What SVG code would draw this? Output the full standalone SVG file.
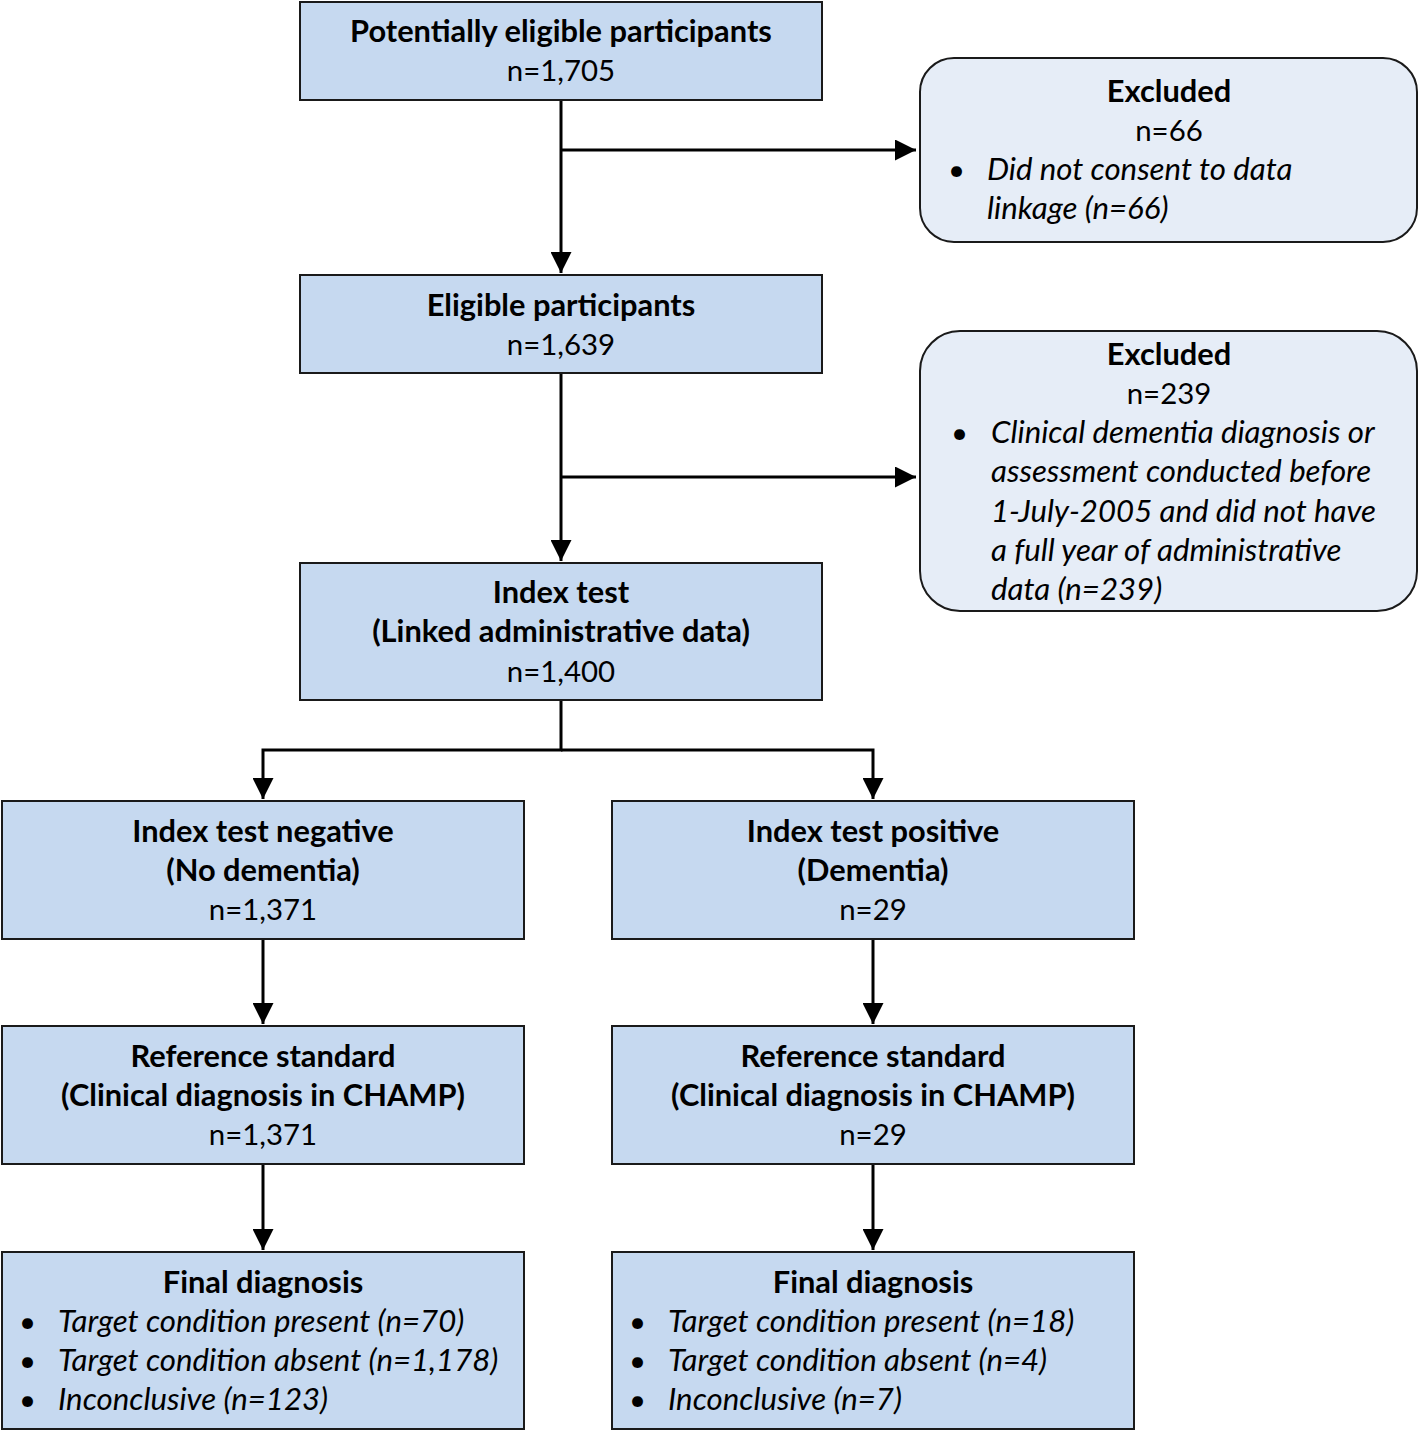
<svg xmlns="http://www.w3.org/2000/svg" width="1419" height="1431" viewBox="0 0 1419 1431">
<defs>
<marker id="ah" viewBox="0 0 10 10" refX="10" refY="5" markerWidth="7" markerHeight="7" markerUnits="strokeWidth" orient="auto">
<path d="M0,0 L10,5 L0,10 z" fill="#000"/>
</marker>
<style>
.box{fill:#c6d9f0;stroke:#1a1a1a;stroke-width:2}
.exc{fill:#e6edf7;stroke:#1a1a1a;stroke-width:2}
text{font-family:Lato,"Liberation Sans",sans-serif;font-size:29.4px;fill:#000}
.c{text-anchor:middle}
.b{font-weight:bold;font-size:30.8px}
.i{font-style:italic;font-size:31.2px}
.con{fill:none;stroke:#000;stroke-width:3}
</style>
</defs>
<rect width="1419" height="1431" fill="#fff"/>
<g id="connectors">
<path class="con" d="M561,100 V273" marker-end="url(#ah)"/>
<path class="con" d="M561,150 H916" marker-end="url(#ah)"/>
<path class="con" d="M561,373 V561" marker-end="url(#ah)"/>
<path class="con" d="M561,477 H916" marker-end="url(#ah)"/>
<path class="con" d="M561,700 V750 H263 V799" marker-end="url(#ah)"/>
<path class="con" d="M561,750 H873 V799" marker-end="url(#ah)"/>
<path class="con" d="M263,939 V1024" marker-end="url(#ah)"/>
<path class="con" d="M873,939 V1024" marker-end="url(#ah)"/>
<path class="con" d="M263,1164 V1250" marker-end="url(#ah)"/>
<path class="con" d="M873,1164 V1250" marker-end="url(#ah)"/>
</g>
<g id="potential">
<rect class="box" x="300" y="2" width="522" height="98"/>
<text class="c b" x="561" y="42">Potentially eligible participants</text>
<text class="c" x="561" y="81">n=1,705</text>
</g>
<g id="excluded1">
<rect class="exc" x="920" y="58" width="497" height="184" rx="34"/>
<text class="c b" x="1169" y="102">Excluded</text>
<text class="c" x="1169" y="141">n=66</text>
<text x="948" y="180">•</text>
<text class="i" x="987" y="180">Did not consent to data</text>
<text class="i" x="987" y="219">linkage (n=66)</text>
</g>
<g id="eligible">
<rect class="box" x="300" y="275" width="522" height="98"/>
<text class="c b" x="561" y="316">Eligible participants</text>
<text class="c" x="561" y="355">n=1,639</text>
</g>
<g id="excluded2">
<rect class="exc" x="920" y="331" width="497" height="280" rx="40"/>
<text class="c b" x="1169" y="365">Excluded</text>
<text class="c" x="1169" y="404">n=239</text>
<text x="951" y="443">•</text>
<text class="i" x="991" y="443">Clinical dementia diagnosis or</text>
<text class="i" x="991" y="482">assessment conducted before</text>
<text class="i" x="991" y="522">1-July-2005 and did not have</text>
<text class="i" x="991" y="561">a full year of administrative</text>
<text class="i" x="991" y="600">data (n=239)</text>
</g>
<g id="index">
<rect class="box" x="300" y="563" width="522" height="137"/>
<text class="c b" x="561" y="603">Index test</text>
<text class="c b" x="561" y="642">(Linked administrative data)</text>
<text class="c" x="561" y="682">n=1,400</text>
</g>
<g id="negative">
<rect class="box" x="2" y="801" width="522" height="138"/>
<text class="c b" x="263" y="842">Index test negative</text>
<text class="c b" x="263" y="881">(No dementia)</text>
<text class="c" x="263" y="920">n=1,371</text>
</g>
<g id="positive">
<rect class="box" x="612" y="801" width="522" height="138"/>
<text class="c b" x="873" y="842">Index test positive</text>
<text class="c b" x="873" y="881">(Dementia)</text>
<text class="c" x="873" y="920">n=29</text>
</g>
<g id="ref-neg">
<rect class="box" x="2" y="1026" width="522" height="138"/>
<text class="c b" x="263" y="1067">Reference standard</text>
<text class="c b" x="263" y="1106">(Clinical diagnosis in CHAMP)</text>
<text class="c" x="263" y="1145">n=1,371</text>
</g>
<g id="ref-pos">
<rect class="box" x="612" y="1026" width="522" height="138"/>
<text class="c b" x="873" y="1067">Reference standard</text>
<text class="c b" x="873" y="1106">(Clinical diagnosis in CHAMP)</text>
<text class="c" x="873" y="1145">n=29</text>
</g>
<g id="final-neg">
<rect class="box" x="2" y="1252" width="522" height="177"/>
<text class="c b" x="263" y="1293">Final diagnosis</text>
<text x="19" y="1332">•</text>
<text class="i" x="58" y="1332">Target condition present (n=70)</text>
<text x="19" y="1371">•</text>
<text class="i" x="58" y="1371">Target condition absent (n=1,178)</text>
<text x="19" y="1410">•</text>
<text class="i" x="58" y="1410">Inconclusive (n=123)</text>
</g>
<g id="final-pos">
<rect class="box" x="612" y="1252" width="522" height="177"/>
<text class="c b" x="873" y="1293">Final diagnosis</text>
<text x="629" y="1332">•</text>
<text class="i" x="668" y="1332">Target condition present (n=18)</text>
<text x="629" y="1371">•</text>
<text class="i" x="668" y="1371">Target condition absent (n=4)</text>
<text x="629" y="1410">•</text>
<text class="i" x="668" y="1410">Inconclusive (n=7)</text>
</g>
</svg>
